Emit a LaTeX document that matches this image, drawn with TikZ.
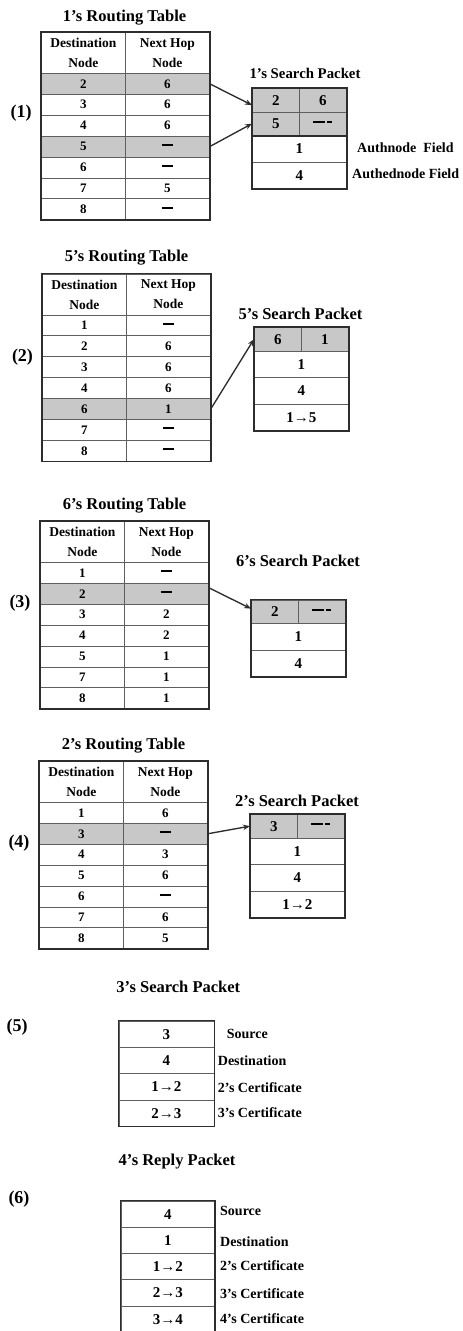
\documentclass[tikz,border=0pt]{standalone}
\usepackage{fontspec}
\setmainfont{Liberation Serif}
\usetikzlibrary{arrows.meta}
\definecolor{rowgray}{RGB}{200,200,200}
\definecolor{linegray}{RGB}{95,95,95}
\definecolor{framedark}{RGB}{45,45,45}
\newcommand{\nohop}{\rule[3.5pt]{11.5pt}{2pt}}
\newcommand{\nofield}{\rule[4pt]{12pt}{2pt}\hspace{2pt}\rule[4pt]{5pt}{2pt}}

\begin{document}
\begin{tikzpicture}[x=1pt, y=-1pt,
    cell/.style={rectangle, draw=linegray, line width=0.8pt, anchor=north west, inner sep=0pt,
      minimum width=84pt, minimum height=20.9pt, font=\fontsize{13}{13}\selectfont\bfseries},
    hcell/.style={cell, minimum height=41pt, align=center, font=\fontsize{13.5}{20}\selectfont\bfseries},
    pgray/.style={cell, fill=rowgray, minimum width=47pt, minimum height=23.5pt,
      font=\fontsize{15}{15}\selectfont\bfseries},
    pcell/.style={cell, minimum width=94pt, minimum height=26.5pt, font=\fontsize{15}{15}\selectfont\bfseries},
    bcell/.style={cell, minimum width=95pt, minimum height=26.3pt, font=\fontsize{15}{15}\selectfont\bfseries},
    frame/.style={draw=framedark, line width=1.4pt},
    title/.style={inner sep=0pt, text height=12pt, text depth=2pt, font=\fontsize{16.5}{16.5}\selectfont\bfseries},
    steplabel/.style={inner sep=0pt, font=\fontsize{18}{18}\selectfont\bfseries},
    field/.style={anchor=west, inner sep=0pt, font=\fontsize{14}{14}\selectfont\bfseries},
    link/.style={-{Stealth[length=7pt,width=5.5pt]}, line width=1.35pt, draw=framedark}]

    \useasboundingbox (0,0) rectangle (463,1331);

    \node[title] (t1) at (124.5,16) {1's Routing Table};
    \node[steplabel] (s1) at (21,113) {(1)};
    \node[hcell] (t1hd) at (41,32) {Destination\\Node};
    \node[hcell] (t1hn) at (125,32) {Next Hop\\Node};
    \foreach \d/\n/\f [count=\i] in {2/6/rowgray, 3/6/white, 4/6/white, 5/\nohop/rowgray, 6/\nohop/white, 7/5/white, 8/\nohop/white}
      {
        \node[cell, fill=\f] (t1d\i) at (41,{73+(\i-1)*20.9}) {\d};
        \node[cell, fill=\f] (t1n\i) at (125,{73+(\i-1)*20.9}) {\n};
      }
    \draw[frame] (t1hd.north west) rectangle (t1n7.south east);

    \node[title, font=\fontsize{14.8}{14.8}\selectfont\bfseries] (p1t) at (305,73) {1's Search Packet};
    \node[pgray] (p1a) at (252,88) {2};
    \node[pgray] (p1b) at (299,88) {6};
    \node[pgray] (p1c) at (252,111.5) {5};
    \node[pgray] (p1d) at (299,111.5) {\nofield};
    \node[pcell] (p1e) at (252,135) {1};
    \node[pcell] (p1f) at (252,161.5) {4};
    \draw[frame] (p1a.north west) rectangle (p1f.south east);
    \draw[frame] (p1c.south west) -- (p1d.south east);
    \node[field] (f1) at (357,147.7) {Authnode\ \ Field};
    \node[field] (f2) at (352,174) {Authednode Field};

    \draw[link] (t1n1.east) -- ([yshift=-5pt]p1a.west);
    \draw[link] (t1n4.east) -- (p1c.west);

    \node[title] (t2) at (126.5,256.7) {5's Routing Table};
    \node[steplabel] (s2) at (22.5,356.7) {(2)};
    \node[hcell] (t2hd) at (42,273.5) {Destination\\Node};
    \node[hcell] (t2hn) at (126,273.5) {Next Hop\\Node};
    \foreach \d/\n/\f [count=\i] in {1/\nohop/white, 2/6/white, 3/6/white, 4/6/white, 6/1/rowgray, 7/\nohop/white, 8/\nohop/white}
      {
        \node[cell, fill=\f] (t2d\i) at (42,{314.5+(\i-1)*20.9}) {\d};
        \node[cell, fill=\f] (t2n\i) at (126,{314.5+(\i-1)*20.9}) {\n};
      }
    \draw[frame] (t2hd.north west) rectangle (t2n7.south east);

    \node[title] (p2t) at (300.5,314.3) {5's Search Packet};
    \node[pgray] (p2a) at (254,327) {6};
    \node[pgray] (p2b) at (301,327) {1};
    \node[pcell] (p2c) at (254,350.5) {1};
    \node[pcell] (p2d) at (254,377) {4};
    \node[pcell] (p2e) at (254,403.5) {1→5};
    \draw[frame] (p2a.north west) rectangle (p2e.south east);

    \draw[link] (t2n5.east) -- (p2a.west);

    \node[title] (t3) at (124.5,504.3) {6's Routing Table};
    \node[steplabel] (s3) at (20,602.7) {(3)};
    \node[hcell] (t3hd) at (40,521) {Destination\\Node};
    \node[hcell] (t3hn) at (124,521) {Next Hop\\Node};
    \foreach \d/\n/\f [count=\i] in {1/\nohop/white, 2/\nohop/rowgray, 3/2/white, 4/2/white, 5/1/white, 7/1/white, 8/1/white}
      {
        \node[cell, fill=\f] (t3d\i) at (40,{562+(\i-1)*20.9}) {\d};
        \node[cell, fill=\f] (t3n\i) at (124,{562+(\i-1)*20.9}) {\n};
      }
    \draw[frame] (t3hd.north west) rectangle (t3n7.south east);

    \node[title] (p3t) at (298,561) {6's Search Packet};
    \node[pgray] (p3a) at (251,599.5) {2};
    \node[pgray] (p3b) at (298,599.5) {\nofield};
    \node[pcell] (p3c) at (251,623) {1};
    \node[pcell] (p3d) at (251,649.5) {4};
    \draw[frame] (p3a.north west) rectangle (p3d.south east);

    \draw[link] ([yshift=6pt]t3n2.east) -- ([yshift=3pt]p3a.west);

    \node[title] (t4) at (123.5,744.3) {2's Routing Table};
    \node[steplabel] (s4) at (19,842.7) {(4)};
    \node[hcell] (t4hd) at (39,761) {Destination\\Node};
    \node[hcell] (t4hn) at (123,761) {Next Hop\\Node};
    \foreach \d/\n/\f [count=\i] in {1/6/white, 3/\nohop/rowgray, 4/3/white, 5/6/white, 6/\nohop/white, 7/6/white, 8/5/white}
      {
        \node[cell, fill=\f] (t4d\i) at (39,{802+(\i-1)*20.9}) {\d};
        \node[cell, fill=\f] (t4n\i) at (123,{802+(\i-1)*20.9}) {\n};
      }
    \draw[frame] (t4hd.north west) rectangle (t4n7.south east);

    \node[title] (p4t) at (297,801) {2's Search Packet};
    \node[pgray] (p4a) at (250,814) {3};
    \node[pgray] (p4b) at (297,814) {\nofield};
    \node[pcell] (p4c) at (250,837.5) {1};
    \node[pcell] (p4d) at (250,864) {4};
    \node[pcell] (p4e) at (250,890.5) {1→2};
    \draw[frame] (p4a.north west) rectangle (p4e.south east);

    \draw[link] (t4n2.east) -- (p4a.west);

    \node[title] (q) at (178.3,987.3) {3's Search Packet};
    \node[steplabel] (s5) at (17,1026.7) {(5)};
    \foreach \v [count=\i] in {3, 4, 1→2, 2→3}
      \node[bcell] (q\i) at (118.5,{1020.7+(\i-1)*26.3}) {\v};
    \draw[frame] (q1.north west) rectangle (q4.south east);
    \node[field] (qf1) at (226.7,1034.3) {Source};
    \node[field] (qf2) at (217.7,1060.7) {Destination};
    \node[field] (qf3) at (217.7,1087.3) {2's Certificate};
    \node[field] (qf4) at (217.7,1112.7) {3's Certificate};

    \node[title] (r) at (177,1160) {4's Reply Packet};
    \node[steplabel] (s6) at (19,1199.3) {(6)};
    \foreach \v [count=\i] in {4, 1, 1→2, 2→3, 3→4}
      \node[bcell, minimum width=93.5pt] (r\i) at (120.7,{1200.5+(\i-1)*26.3}) {\v};
    \draw[frame] (r5.south west) -- (r1.north west) -- (r1.north east) -- (r5.south east);
    \node[field] (rf1) at (220,1210.7) {Source};
    \node[field] (rf2) at (220,1241.7) {Destination};
    \node[field] (rf3) at (220,1266) {2's Certificate};
    \node[field] (rf4) at (220,1294) {3's Certificate};
    \node[field] (rf5) at (220,1318.3) {4's Certificate};

\end{tikzpicture}
\end{document}
